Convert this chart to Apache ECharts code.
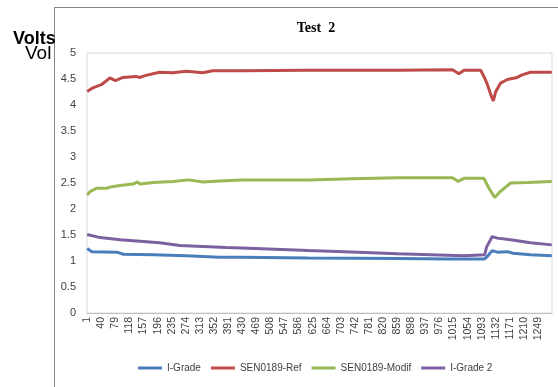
<!DOCTYPE html>
<html><head><meta charset="utf-8">
<script src="https://cdn.jsdelivr.net/npm/echarts@6/dist/echarts.min.js"></script>
<style>html,body{margin:0;padding:0;background:#fff;}#c{width:558px;height:387px;}</style>
</head><body><div id="c"></div>
<script>
// Sample count (x categories 1..N)
const N = 1287;
const seriesNames = ['I-Grade', 'SEN0189-Ref', 'SEN0189-Modif', 'I-Grade 2'];
const yTicks = [0, 0.5, 1, 1.5, 2, 2.5, 3, 3.5, 4, 4.5, 5];

// [sample number, volts]
const iGrade = [[1,1.24],[14,1.18],[83,1.17],[101,1.13],[184,1.12],[275,1.10],[367,1.07],[429,1.07],[613,1.06],[860,1.05],[1000,1.04],[1101,1.04],[1110,1.10],[1122,1.20],[1136,1.17],[1164,1.18],[1180,1.15],[1228,1.12],[1287,1.10]];
const senRef = [[1,4.26],[17,4.33],[40,4.39],[64,4.52],[79,4.47],[100,4.53],[136,4.55],[145,4.53],[164,4.57],[201,4.63],[238,4.62],[275,4.65],[321,4.62],[348,4.66],[429,4.66],[613,4.67],[860,4.67],[1012,4.68],[1030,4.60],[1044,4.67],[1090,4.67],[1101,4.52],[1109,4.39],[1118,4.20],[1125,4.08],[1132,4.26],[1145,4.42],[1164,4.49],[1191,4.53],[1205,4.58],[1210,4.55],[1228,4.63],[1287,4.63]];
const senModif = [[1,2.27],[10,2.34],[28,2.40],[55,2.40],[69,2.43],[92,2.45],[128,2.48],[140,2.52],[147,2.48],[184,2.51],[239,2.53],[281,2.56],[322,2.52],[368,2.54],[429,2.56],[613,2.56],[733,2.58],[860,2.60],[1012,2.60],[1028,2.53],[1044,2.59],[1099,2.59],[1113,2.40],[1129,2.22],[1145,2.34],[1173,2.50],[1219,2.51],[1287,2.53]];
const iGrade2 = [[1,1.51],[37,1.45],[92,1.41],[147,1.38],[202,1.35],[257,1.30],[321,1.28],[386,1.26],[429,1.25],[613,1.20],[751,1.17],[860,1.14],[952,1.12],[1044,1.10],[1101,1.12],[1107,1.28],[1113,1.35],[1122,1.47],[1136,1.44],[1173,1.41],[1228,1.35],[1287,1.31]];

const colors = ['#4a7ebb', '#be4b48', '#98b954', '#7d60a0'];
const categories = [];
for (let i = 1; i <= N; i++) categories.push(String(i));
const toIdx = arr => arr.map(p => [p[0] - 1, p[1]]);
const allData = [iGrade, senRef, senModif, iGrade2];

const chart = echarts.init(document.getElementById('c'));
chart.setOption({
  animation: false,
  title: {
    text: 'Test  2', left: 311, top: 16, textAlign: 'center',
    textStyle: { fontFamily: 'Liberation Serif', fontWeight: 'bold', fontSize: 14, color: '#000' }
  },
  legend: {
    bottom: 9, left: 133,
    icon: 'rect', itemWidth: 24, itemHeight: 3, itemGap: 10,
    textStyle: { fontFamily: 'Liberation Sans', fontSize: 10, color: '#404040' },
    data: seriesNames
  },
  grid: { left: 87, right: 6, top: 53, bottom: 74, show: true, borderColor: '#d9d9d9', borderWidth: 1 },
  xAxis: {
    type: 'category', data: categories, boundaryGap: true,
    axisLine: { lineStyle: { color: '#bfbfbf' } },
    axisTick: { show: false },
    axisLabel: { interval: 38, rotate: 90, fontFamily: 'Liberation Sans', fontSize: 10.5, color: '#404040', margin: 4 }
  },
  yAxis: {
    type: 'value', min: 0, max: 5, interval: 0.5,
    axisLine: { show: false }, axisTick: { show: false },
    splitLine: { show: false },
    axisLabel: { fontFamily: 'Liberation Sans', fontSize: 11, color: '#404040', margin: 11 }
  },
  series: seriesNames.map((n, i) => ({
    name: n, type: 'line', data: toIdx(allData[i]), showSymbol: false, symbol: 'none',
    lineStyle: { color: colors[i], width: 3 }, itemStyle: { color: colors[i] }
  })),
  graphic: [
    { type: 'line', shape: { x1: 54.5, y1: 7, x2: 54.5, y2: 387 }, style: { stroke: '#868686', lineWidth: 1 } },
    { type: 'line', shape: { x1: 54, y1: 7.5, x2: 558, y2: 7.5 }, style: { stroke: '#868686', lineWidth: 1 } },
    { type: 'text', left: 13, top: 30, style: { text: 'Volts', font: 'bold 18px "Liberation Sans"', fill: '#000' } },
    { type: 'text', left: 25, top: 44, style: { text: 'Vol', font: '19px "Liberation Sans"', fill: '#000' } }
  ]
});
</script></body></html>
